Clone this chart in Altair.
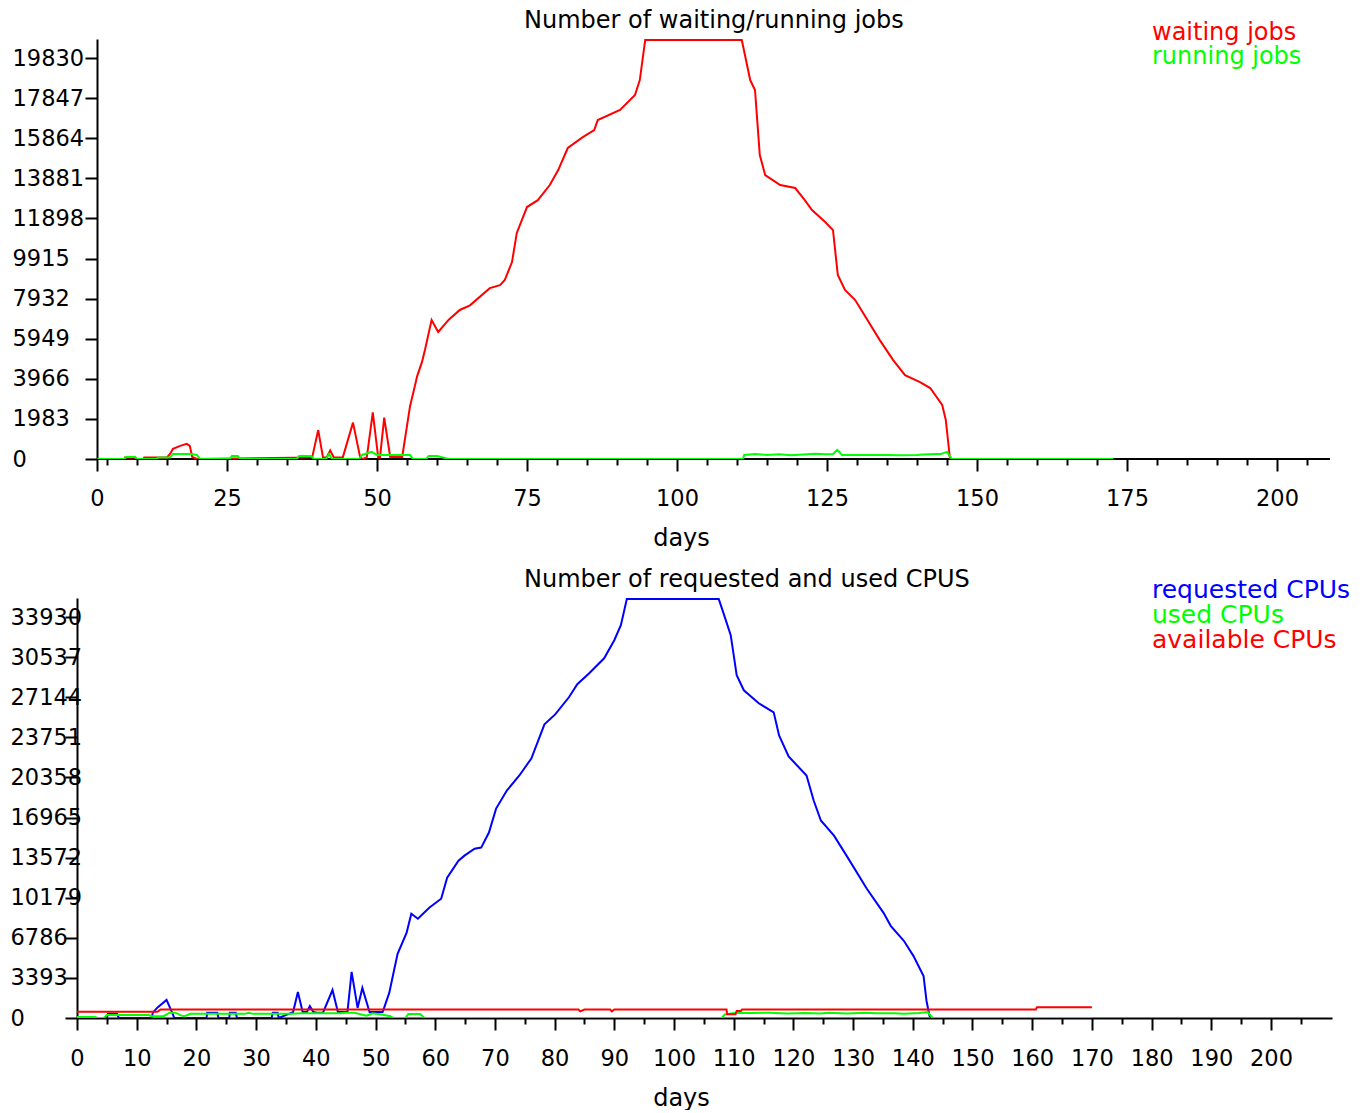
import altair as alt
import pandas as pd

FONT = "DejaVu Sans"

# ---------------- top chart data: waiting / running jobs ----------------
wait_days = [3.4, 7.9, 8.0, 9.7, 10.0, 11.0, 11.2, 12.2, 12.6, 15.0, 15.5, 16.0, 17.2, 18.3, 18.8,
             19.2, 20.0, 39.2, 40.2, 41.0, 41.6, 42.2, 42.8, 44.3, 46.0, 47.2, 47.6, 48.3, 49.3,
             50.2, 50.5, 51.2, 52.2, 54.2, 55.5, 56.7, 57.5, 58.0, 59.1, 60.2, 62.0, 63.8, 65.5,
             68.8, 70.5, 71.3, 72.5, 73.3, 75.0, 76.8, 78.8, 80.2, 81.8, 84.3, 86.2, 86.8, 90.5,
             93.0, 93.8, 94.7, 110.8, 112.2, 113.0, 113.8, 114.7, 117.2, 119.7, 121.3, 122.5,
             124.7, 126.0, 126.8, 128.0, 129.7, 133.8, 136.0, 138.0, 140.5, 142.2, 144.2, 144.8,
             145.5, 172.7]
wait_vals = [0, 0, 80, 80, 0, 0, 80, 80, 80, 80, 250, 500, 650, 750, 650,
             100, 0, 80, 1430, 80, 80, 420, 80, 80, 1800, 80, 0, 80, 2300,
             80, 80, 2050, 100, 100, 2600, 4100, 4800, 5400, 6870, 6280, 6900, 7370, 7600,
             8450, 8600, 8850, 9740, 11180, 12460, 12800, 13550, 14290, 15380, 15920, 16270, 16760, 17260,
             18000, 18740, 20720, 20720, 18740, 18250, 15030, 14040, 13550, 13400, 12800, 12310,
             11720, 11320, 9100, 8360, 7860, 5880, 4900, 4150, 3800, 3510, 2670, 1930,
             0, 0]

run_days = [3.4, 8.0, 8.1, 9.7, 10.0, 13.3, 13.5, 15.5, 16.0, 19.0, 20.0, 20.5, 25.5, 25.8, 26.8,
            27.2, 36.6, 37.0, 39.0, 39.5, 41.5, 42.0, 42.5, 47.0, 47.5, 49.1, 50.0, 55.5, 56.0,
            58.2, 58.6, 60.0, 62.0, 111.0, 111.2, 113.0, 115.0, 117.0, 119.0, 121.0, 123.0,
            125.0, 126.0, 126.7, 127.5, 128.0, 135.0, 137.0, 140.0, 141.0, 143.0, 144.0, 145.0,
            145.8, 172.7]
run_vals = [0, 0, 100, 100, 0, 0, 80, 80, 250, 250, 200, 0, 0, 150, 150,
            0, 0, 150, 150, 0, 0, 250, 0, 0, 200, 350, 200, 200, 0,
            0, 150, 150, 0, 0, 200, 250, 200, 230, 180, 220, 260,
            230, 250, 450, 200, 200, 200, 180, 200, 220, 250, 250, 350,
            0, 0]

# ---------------- bottom chart data: requested / used / available CPUs ----------------
req_days = [0, 5.0, 5.2, 6.7, 7.0, 12.5, 12.7, 13.5, 15.0, 15.9, 16.3, 21.7, 21.8, 23.5, 23.7,
            25.5, 25.6, 26.6, 26.8, 32.6, 32.8, 33.6, 33.8, 36.2, 37.0, 37.8, 38.5, 39.0, 39.6,
            40.2, 41.2, 42.8, 43.7, 45.3, 46.0, 47.0, 47.8, 49.0, 51.2, 52.3, 53.7, 55.2, 56.0,
            57.1, 59.0, 61.0, 62.0, 63.9, 64.9, 66.6, 67.7, 69.0, 70.2, 72.0, 74.1, 76.1, 78.3,
            80.1, 82.4, 83.8, 85.8, 88.3, 90.0, 91.1, 92.1, 107.5, 108.4, 109.5, 110.0, 110.5,
            111.7, 114.2, 116.7, 117.6, 119.2, 122.2, 123.4, 124.6, 126.8, 128.9, 132.3, 135.1,
            136.3, 138.5, 140.1, 141.8, 142.3, 142.8, 143.2, 170.0]
req_vals = [0, 0, 350, 350, 0, 0, 450, 900, 1530, 500, 0, 0, 450, 450, 0,
            0, 450, 450, 0, 0, 450, 450, 0, 500, 2200, 500, 500, 1000, 500,
            450, 450, 2370, 500, 500, 3900, 850, 2540, 500, 500, 2120, 5430, 7200, 8820,
            8400, 9330, 10090, 11870, 13310, 13740, 14330, 14420, 15690, 17720, 19250, 20520, 21960, 24850,
            25690, 27140, 28240, 29170, 30440, 31970, 33240, 35450, 35450, 34090, 32390, 30700, 29000,
            27730, 26630, 25860, 23910, 22130, 20520, 18400, 16710, 15430, 13740, 10940, 8900,
            7800, 6530, 5260, 3560, 1440, 170, 0, 0]

used_days = [0, 3.0, 3.5, 4.5, 5.0, 12.0, 12.5, 14.5, 15.5, 16.5, 17.5, 18.0, 19.0, 28.0, 28.8,
             29.5, 36.0, 37.5, 44.0, 45.0, 46.5, 48.5, 49.5, 51.0, 52.5, 53.0, 55.0, 55.5, 57.5,
             58.2, 108.0, 108.5, 110.5, 113.0, 116.0, 119.0, 122.0, 124.5, 126.0, 129.0, 132.0,
             134.0, 137.0, 138.5, 141.0, 142.5, 143.3, 170.0]
used_vals = [80, 80, 0, 0, 250, 250, 150, 150, 450, 450, 200, 150, 350, 350, 450,
             350, 350, 400, 400, 450, 450, 200, 400, 300, 150, 0, 0, 340, 340,
             0, 0, 300, 450, 420, 450, 380, 430, 380, 440, 380, 450,
             400, 400, 350, 430, 500, 0, 0]

avail_days = [0, 13.5, 14.0, 84.0, 84.3, 85.0, 89.3, 89.6, 90.0, 108.8, 108.9, 110.3, 110.5,
              111.2, 111.4, 160.6, 160.8, 170.0]
avail_vals = [530, 530, 720, 720, 560, 720, 720, 560, 720, 720, 310, 310, 590,
              590, 720, 720, 900, 900]

top_titles = ["Number of waiting/running jobs", "days"]
bot_titles = ["Number of requested and used CPUS", "days"]
top_legend = ["waiting jobs", "running jobs"]
bot_legend = ["requested CPUs", "used CPUs", "available CPUs"]
top_yticks = [1983 * k for k in range(11)]
bot_yticks = [3393 * k for k in range(11)]

RED, GREEN, BLUE = "#ff0000", "#00ff00", "#0000ff"


def frame(days, vals):
    return pd.DataFrame({"day": days, "value": vals})


def text_mark(label, color, px, py, size=24):
    return alt.Chart(pd.DataFrame({"t": [label]})).mark_text(
        align="left", baseline="alphabetic", font=FONT, fontSize=size, color=color
    ).encode(text="t:N", x=alt.value(px), y=alt.value(py))


# ---------------- top chart ----------------
TOP_W, TOP_H = 1253, 420
top_x0 = 10 / 3
top_x1 = TOP_W / 6.0
top_xs = alt.Scale(domain=[0, top_x1], nice=False, zero=False)
top_ys = alt.Scale(domain=[0, 20770], nice=False, zero=False)

top_xaxis = alt.Axis(
    values=[top_x0] + list(range(5, 209, 5)),
    labelExpr="datum.value < 4 ? '0' : (datum.value % 25 === 0 ? datum.label : '')",
    tickSize={"condition": {"test": "datum.value < 4 || datum.value % 25 === 0", "value": 12}, "value": 6},
    labelOverlap=False, labelFlush=False, labelPadding=34, labelBaseline="alphabetic",
    domain=False,
    title=top_titles[1], titleX=604, titleY=86, titleBaseline="alphabetic", titleAnchor="start",
    titleAlign="center",
)
top_yaxis = alt.Axis(
    values=top_yticks, format="d", tickSize=12, labelAlign="left", labelPadding=73, offset=-20,
    labelExpr="datum.value === 0 ? '\u2007\u2007\u2007\u20070' : datum.label",
    title=None, labelOverlap=False,
)

tx = alt.X("day:Q", scale=top_xs, axis=top_xaxis)
ty = alt.Y("value:Q", scale=top_ys, axis=top_yaxis)

top_base = alt.Chart(pd.DataFrame({"a": [top_x0], "b": [top_x1], "v": [0]})).mark_rule(
    color="black", strokeWidth=2
).encode(x=alt.X("a:Q", scale=top_xs, axis=top_xaxis), x2="b:Q", y=alt.Y("v:Q", scale=top_ys, axis=top_yaxis))
top_wait = alt.Chart(frame(wait_days, wait_vals)).mark_line(color=RED, strokeWidth=2, clip=True).encode(x=tx, y=ty)
top_run = alt.Chart(frame(run_days, run_vals)).mark_line(color=GREEN, strokeWidth=2, clip=True).encode(x=tx, y=ty)

top = alt.layer(
    top_base, top_wait, top_run,
    text_mark(top_titles[0], "black", 447, -11),
    text_mark(top_legend[0], RED, 1075, 0.5),
    text_mark(top_legend[1], GREEN, 1075, 25),
).properties(width=TOP_W, height=TOP_H)

# ---------------- bottom chart ----------------
BOT_W, BOT_H = 1255, 420
bot_xs = alt.Scale(domain=[0, BOT_W / 5.97], nice=False, zero=False)
bot_ys = alt.Scale(domain=[0, 35540], nice=False, zero=False)

bot_xaxis = alt.Axis(
    values=list(range(0, 206, 5)),
    labelExpr="datum.value % 10 === 0 ? datum.label : ''",
    tickSize={"condition": {"test": "datum.value % 10 === 0", "value": 12}, "value": 6},
    labelOverlap=False, labelFlush=False, labelPadding=35, labelBaseline="alphabetic",
    title=bot_titles[1], titleX=604, titleY=87, titleBaseline="alphabetic", titleAnchor="start",
    titleAlign="center",
)
bot_yaxis = alt.Axis(
    values=bot_yticks, format="d", tickSize=12, labelAlign="left", labelPadding=55,
    labelExpr="datum.value === 0 ? '\u20070' : datum.label",
    title=None, labelOverlap=False,
)

bx = alt.X("day:Q", scale=bot_xs, axis=bot_xaxis)
by = alt.Y("value:Q", scale=bot_ys, axis=bot_yaxis)

bot_req = alt.Chart(frame(req_days, req_vals)).mark_line(color=BLUE, strokeWidth=2, clip=True).encode(x=bx, y=by)
bot_used = alt.Chart(frame(used_days, used_vals)).mark_line(color=GREEN, strokeWidth=2, clip=True).encode(x=bx, y=by)
bot_avail = alt.Chart(frame(avail_days, avail_vals)).mark_line(color=RED, strokeWidth=2, clip=True).encode(x=bx, y=by)

bottom = alt.layer(
    bot_req, bot_used, bot_avail,
    text_mark(bot_titles[0], "black", 447, -11),
    text_mark(bot_legend[0], BLUE, 1075, 0, 25),
    text_mark(bot_legend[1], GREEN, 1075, 25, 25),
    text_mark(bot_legend[2], RED, 1075, 50, 25),
).properties(width=BOT_W, height=BOT_H)

chart = alt.vconcat(top, bottom, spacing=18).properties(
    padding={"left": 2, "top": 1, "right": 0, "bottom": 0},
    background="white",
).configure_view(stroke=None).configure_axis(
    domainColor="black", domainWidth=2, tickColor="black", tickWidth=2, grid=False,
    labelFont=FONT, labelFontSize=22.5, labelColor="black",
    titleFont=FONT, titleFontSize=24, titleFontWeight="normal", titleColor="black",
)

chart.save("out.html", embed_options={"renderer": "svg", "actions": False})
